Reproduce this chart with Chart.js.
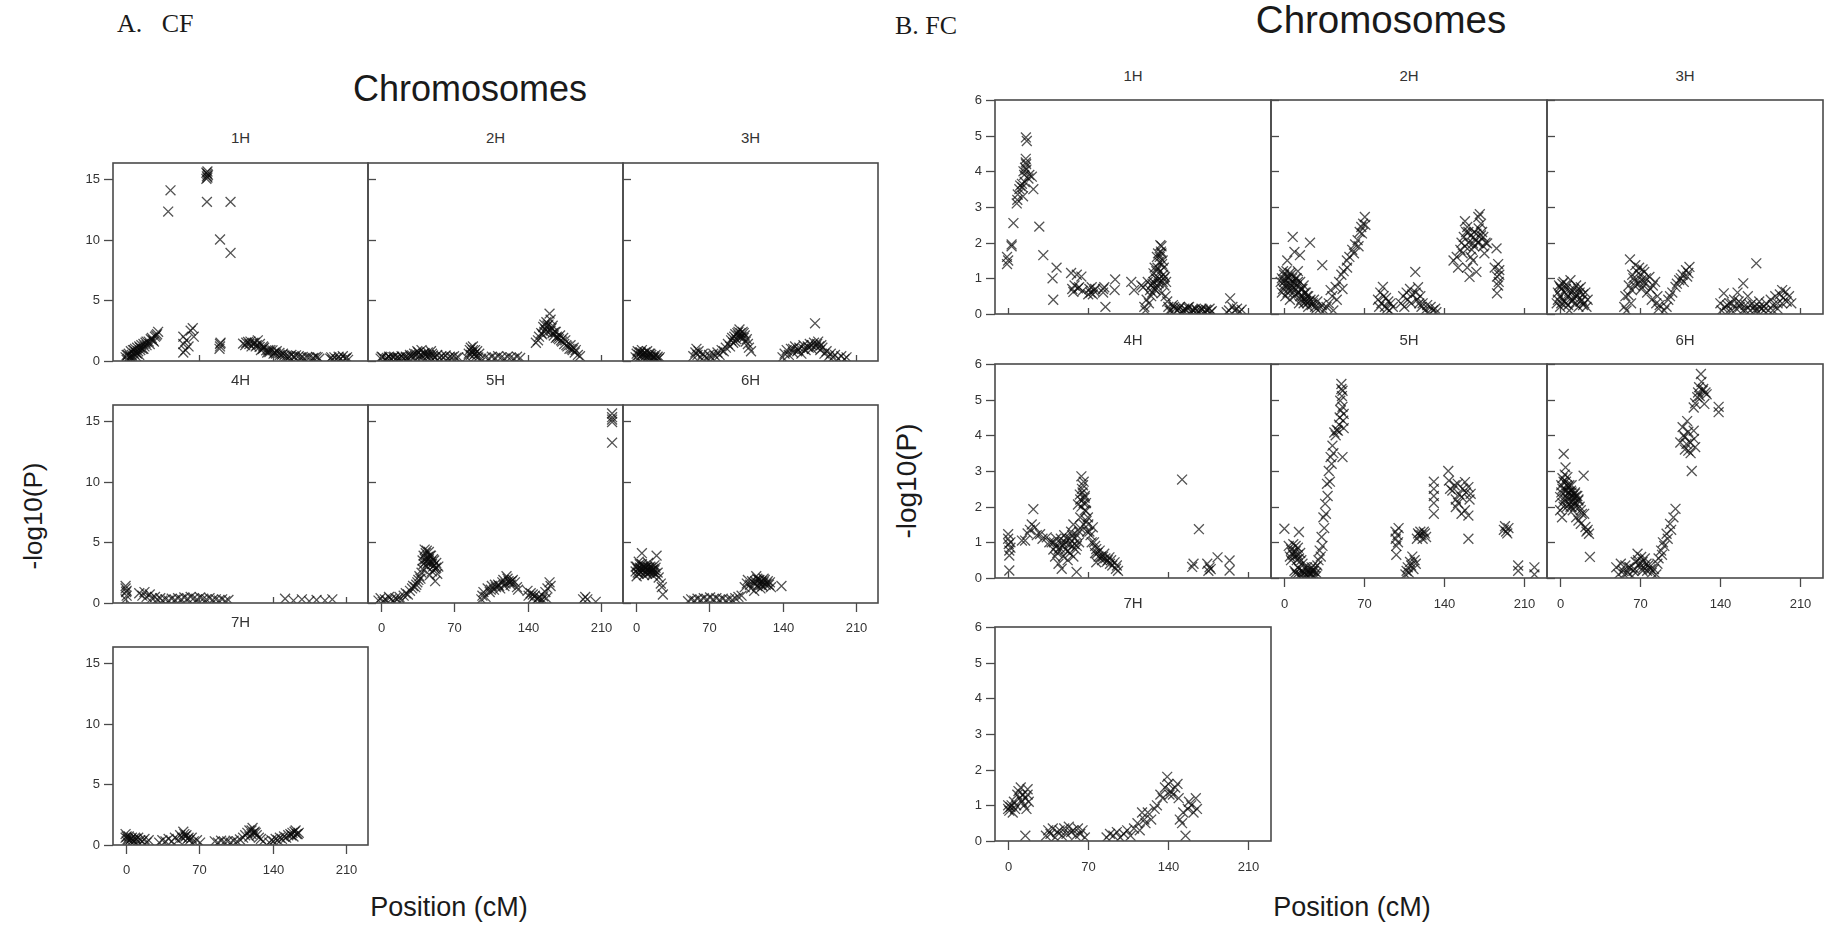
<!DOCTYPE html>
<html><head><meta charset="utf-8">
<script src="https://cdn.jsdelivr.net/npm/chart.js@4.4.1/dist/chart.umd.min.js"></script>
<style>
html,body{margin:0;padding:0;background:#fff;width:1827px;height:926px;overflow:hidden;position:relative;font-family:"Liberation Sans",Arial,sans-serif;}
canvas{position:absolute;}
.t{position:absolute;white-space:pre;color:#1a1a1a;line-height:1;}
.c{transform:translate(-50%,-50%);}
.r{transform:translate(-50%,-50%) rotate(-90deg);}
.s{font-size:15px;color:#333;}
.serif{font-family:"Liberation Serif","Times New Roman",serif;}
</style></head><body>
<script>
// ---------- tick values & labels ----------
const xTicks = [0, 70, 140, 210];
const yTicksA = [0, 5, 10, 15];
const yTicksB = [0, 1, 2, 3, 4, 5, 6];
const chromLabels = ['1H', '2H', '3H', '4H', '5H', '6H', '7H'];

// ---------- A. CF : [position cM, -log10(P)] ----------
const A_1H = [[0,0.3],[1,0.5],[1,0.1],[2,0.2],[2,0.5],[3,0.6],[4,0.4],[4,0.2],[5,0.8],[5,0.3],[6,0.5],[7,0.9],[7,0.3],[8,0.6],[8,0.9],[9,1.0],[10,0.7],[10,0.4],[11,1.1],[11,0.6],[12,0.8],[13,1.2],[13,0.5],[14,0.9],[14,1.1],[15,1.3],[16,1.0],[17,1.4],[17,1.0],[18,1.2],[19,1.5],[20,1.3],[20,1.6],[22,1.6],[23,1.4],[24,1.8],[25,1.9],[26,1.7],[27,1.6],[28,2.0],[29,2.1],[30,2.2],[31,2.4],
[40.6,12.3],[42.8,14.05],
[55,0.7],[55,1.4],[55,2.0],[57,0.9],[58,1.7],[60,1.2],[62,2.5],[64,2.7],[65,2.0],
[77,15.0],[77.5,15.2],[78,15.4],[78,15.6],[78.5,15.3],[77,15.5],[78,15.1],[77.5,13.1],
[90,10.0],[90,1.2],[90,1.4],[89.5,1.0],[90.5,1.5],
[100,13.1],[100,8.9],
[112,1.43],[114,1.3],[115,1.5],[116.7,1.57],[118,1.4],[119,1.6],[120,1.2],[121.5,1.49],[123,1.5],[124,1.2],[125,1.3],[126,1.7],[127.7,1.16],[128,1.4],[129,0.9],[130.8,1.0],[131,1.2],[132,1.1],[134,0.88],[135,0.7],[136,0.9],[137,0.74],[138,0.9],[140,0.88],[141,0.6],[142,0.7],[143.4,0.6],[144,0.8],[146.6,0.66],[147,0.5],[149,0.5],[150,0.6],[151.3,0.47],[153,0.4],[155,0.4],[156,0.33],[158,0.5],[160,0.4],[161,0.3],[162.4,0.47],[165,0.4],[167,0.3],[168.8,0.33],[170,0.2],[173,0.3],[175,0.28],[178,0.2],[179,0.25],[181.4,0.33],[183,0.3],[184.6,0.19],
[195,0.2],[196,0.3],[197,0.1],[199,0.3],[201,0.15],[203,0.35],[204,0.1],[205,0.2],[207,0.4],[209,0.2],[210,0.2],[211,0.3],[212,0.1]];

const A_2H = [[0,0.2],[1,0.35],[2,0.3],[4,0.1],[5,0.15],[6,0.25],[8,0.35],[9,0.25],[10,0.2],[12,0.3],[13,0.35],[14,0.15],[16,0.3],[17,0.2],[18,0.25],[20,0.4],[21,0.3],[22,0.2],[24,0.35],[25,0.2],[26,0.3],[28,0.5],[29,0.35],[30,0.45],[32,0.6],[33,0.4],[34,0.55],[35,0.8],[36,0.7],[37,0.4],[38,0.5],[39,0.9],[40,0.4],[41,0.6],[42,0.65],[43,0.5],[44,0.35],[45,0.7],[46,0.5],[47,0.4],[48,0.8],[49,0.6],[50,0.45],[51,0.3],[52,0.3],[54,0.5],[56,0.25],[58,0.4],[60,0.3],[62,0.45],[64,0.2],[66,0.35],[68,0.3],[70,0.4],[72,0.25],[74,0.3],
[82,0.3],[84,0.6],[85,0.9],[86,1.1],[86,0.5],[87,0.7],[88,1.2],[88,0.9],[89,0.5],[90,0.9],[90,0.6],[91,0.4],[92,0.8],[93,0.3],[94,0.6],[96,0.2],
[100,0.3],[103,0.2],[106,0.35],[109,0.25],[112,0.4],[115,0.3],[118,0.2],[121,0.35],[124,0.3],[127,0.2],[130,0.35],[133,0.25],
[148,1.5],[150,1.7],[151,2.0],[153,2.3],[154,2.2],[155,2.8],[156,2.4],[156,3.0],[157,2.6],[158,3.2],[159,2.9],[159,2.4],[160,3.0],[161,3.9],[162,2.5],[162,3.4],[163,2.7],[164,2.3],[164,2.9],[165,2.1],[166,2.4],[167,1.9],[167,2.4],[168,2.0],[169,1.9],[170,1.8],[171,2.1],[172,1.7],[173,1.6],[174,1.9],[175,1.4],[176,1.7],[177,1.3],[178,1.2],[180,1.0],[181,1.3],[182,1.0],[183,0.9],[184,1.1],[185,0.7],[186,0.9],[188,0.5],[190,0.4]];

const A_3H = [[0,0.3],[1,0.6],[2,0.8],[2,0.2],[3,0.5],[4,0.7],[5,0.4],[5,0.7],[6,0.9],[7,0.6],[8,0.3],[8,0.5],[9,0.7],[10,0.5],[11,0.8],[11,0.3],[12,0.4],[13,0.6],[14,0.3],[14,0.6],[15,0.5],[16,0.2],[17,0.4],[17,0.25],[18,0.3],[19,0.5],[20,0.2],[21,0.35],[22,0.2],[23,0.3],
[55,0.4],[57,0.7],[58,1.0],[59,0.5],[60,0.8],[62,0.3],[64,0.6],[66,0.4],[68,0.2],[70,0.5],[72,0.3],[74,0.6],[76,0.4],[78,0.7],[80,0.5],[82,0.9],[84,0.8],[86,1.1],[88,1.4],[90,1.2],[91,1.7],[92,1.9],[93,1.5],[94,2.0],[95,2.2],[95,1.6],[96,1.8],[97,2.3],[98,2.1],[98,2.4],[99,2.6],[100,2.3],[100,1.9],[101,2.0],[102,2.4],[103,1.9],[103,2.3],[104,2.1],[105,1.6],[106,1.8],[107,1.4],[108,1.1],[110,0.8],
[140,0.3],[142,0.6],[144,0.9],[146,0.5],[148,1.0],[150,0.7],[150,1.0],[152,1.2],[154,0.8],[155,0.9],[156,1.1],[158,0.6],[160,1.3],[160,1.0],[162,0.9],[164,1.2],[165,1.1],[166,1.4],[168,1.0],[168,1.3],[170,1.5],[171,3.1],[172,1.2],[173,1.4],[174,1.6],[175,1.2],[176,0.9],[177,1.3],[178,1.1],[180,0.6],[182,0.8],[184,0.4],[186,0.6],[188,0.3],[190,0.5],[193,0.2],[196,0.4],[199,0.15],[201,0.3]];

const A_4H = [[0,1.4],[0,1.2],[0.5,0.9],[1,0.6],[0,0.3],[1,1.0],[13,0.8],[16,0.6],[18,0.9],[20,0.5],[23,0.7],[25,0.4],[28,0.5],[30,0.3],[33,0.4],[35,0.2],[38,0.3],[41,0.2],[44,0.35],[47,0.25],[50,0.4],[53,0.3],[56,0.45],[59,0.35],[62,0.5],[65,0.4],[68,0.3],[71,0.45],[74,0.35],[77,0.3],[80,0.4],[83,0.25],[86,0.3],[89,0.2],[92,0.3],[95,0.15],[98,0.25],
[152,0.35],[160,0.2],[168,0.3],[175,0.15],[182,0.25],[190,0.2],[197,0.3]];

const A_5H = [[-2,0.2],[0,0.4],[2,0.1],[4,0.3],[6,0.2],[8,0.5],[10,0.3],[12,0.15],[14,0.4],[16,0.3],[18,0.5],[20,0.2],[22,0.6],[24,0.8],[26,0.7],[28,1.0],[30,1.2],[31,1.4],[33,1.3],[34,1.5],[35,1.7],[36,1.9],[37,2.2],[38,2.0],[39,2.5],[40,2.8],[40,3.5],[41,3.2],[41,3.9],[42,4.4],[42.5,3.6],[43,4.1],[43,3.4],[44,3.0],[44,4.3],[45,3.8],[45,3.3],[46,4.2],[46,3.6],[47,3.9],[48,3.4],[48,3.9],[49,2.6],[49,3.2],[50,3.6],[50,3.0],[51,3.1],[51,3.5],[52,2.8],[53,3.3],[53,2.9],[54,2.4],[55,3.0],[52,1.8],[47,2.3],
[96,0.3],[97,0.6],[98,0.9],[100,0.5],[102,1.2],[104,0.9],[105,1.1],[106,1.4],[108,1.1],[109,1.5],[110,1.3],[112,1.5],[113,1.4],[114,1.2],[116,1.7],[117,1.9],[118,1.4],[119,1.6],[120,2.2],[121,2.0],[122,1.8],[123,1.7],[124,1.5],[125,1.8],[126,1.9],[128,1.7],[130,1.3],[131,1.1],
[140,1.0],[141,0.6],[143,0.8],[145,0.4],[145,0.7],[147,0.6],[149,0.3],[150,0.4],[151,0.5],[153,0.2],[154,0.3],[155,0.55],[157,0.9],[159,1.2],[161,1.7],[162,1.4],[158,0.4],
[193,0.3],[195,0.5],[197,0.3],[205,0.1],
[220.6,15.6],[220.6,15.3],[220.6,15.1],[220.6,14.9],[220.6,13.2]];

const A_6H = [[0,2.6],[0,3.0],[1,3.0],[1,2.2],[2,2.8],[2,2.5],[3,2.4],[3,3.4],[4,2.9],[4,3.2],[5,2.5],[5,2.8],[6,4.1],[6,3.2],[7,2.7],[7,3.0],[8,2.3],[8,3.0],[9,2.6],[9,2.9],[10,2.9],[10,2.6],[11,2.4],[11,3.0],[12,3.3],[12,2.7],[13,2.5],[13,2.9],[14,3.0],[14,2.6],[15,2.6],[15,2.9],[16,2.3],[16,2.7],[17,2.8],[17,2.5],[18,3.1],[18,2.7],[19,2.4],[19,2.9],[20,3.9],[21,2.5],[22,2.1],[24,1.6],[25,1.3],[26,0.7],
[50,0.15],[53,0.3],[56,0.2],[59,0.35],[62,0.25],[65,0.4],[68,0.3],[71,0.45],[74,0.3],[77,0.4],[80,0.25],[83,0.35],[86,0.2],[89,0.3],[92,0.25],[95,0.4],[98,0.5],[101,0.6],
[104,1.3],[106,1.6],[107,1.9],[109,1.5],[110,1.2],[111,1.8],[113,1.0],[113,1.6],[114,1.8],[115,2.2],[116,1.4],[116,2.0],[117,1.9],[118,1.6],[118,1.9],[119,1.2],[120,1.8],[120,1.5],[121,1.4],[122,2.0],[122,1.7],[123,1.9],[124,1.5],[125,1.6],[126,1.8],[127,1.5],[128,1.7],[129,1.3],[139,1.4]];

const A_7H = [[0,0.9],[0,0.6],[1,0.3],[1,0.7],[2,0.5],[3,0.7],[4,0.4],[5,0.5],[6,0.6],[7,0.4],[8,0.3],[9,0.6],[10,0.5],[11,0.3],[12,0.6],[14,0.4],[16,0.3],[18,0.5],[20,0.2],[22,0.4],
[32,0.2],[35,0.4],[38,0.3],[41,0.5],[44,0.3],[47,0.6],[50,0.4],[52,0.8],[54,0.6],[55,1.1],[56,0.9],[57,0.7],[58,0.8],[59,0.5],[60,0.6],[61,0.4],[63,0.6],[65,0.3],[68,0.4],[71,0.2],
[85,0.3],[88,0.2],[91,0.35],[94,0.25],[97,0.3],[100,0.2],[103,0.35],[106,0.3],[109,0.45],[112,0.6],[114,0.8],[116,1.0],[118,0.7],[118,1.2],[120,0.9],[120,1.2],[121,1.4],[122,1.0],[123,1.1],[124,1.0],[125,0.8],[127,0.6],[129,0.5],[131,0.3],
[137,0.2],[139,0.4],[141,0.3],[143,0.5],[145,0.4],[147,0.6],[149,0.5],[151,0.7],[153,0.6],[155,0.8],[157,0.9],[158,0.8],[159,1.0],[160,0.7],[161,1.1],[162,1.2],[163,0.9],[164,0.9],[165,1.0]];

// ---------- B. FC ----------
const B_1H = [[-1,1.6],[-1,1.4],[0,1.5],[3,1.95],[3,1.9],[4.6,2.55],[7.5,3.1],[8,3.2],[8.4,3.35],[9.8,3.5],[10.5,3.6],[12,3.65],[12.5,3.55],[13.4,4.0],[14,3.9],[14.8,4.1],[15.4,4.35],[15.4,4.25],[15.5,4.95],[16.3,4.85],[15.7,4.2],[16,4.05],[17.7,3.8],[18.5,3.9],[20.7,3.85],[22,3.5],[14.5,3.7],[13,3.3],
[27.2,2.45],[30.7,1.65],[38.8,1.0],[42.3,1.3],[39.4,0.4],
[55,1.15],[56,0.7],[57,0.62],[58,0.8],[60,1.1],[61,0.72],[62,0.75],[64,1.05],[65,0.65],
[70,0.55],[71,0.7],[72,0.6],[73,0.75],[74,0.55],[75,0.65],[76,0.7],
[83,0.6],[83,0.7],[84,0.75],[85,0.2],[93.5,0.97],[93,0.67],
[107.6,0.9],[110,0.67],[116.4,0.8],[118,0.75],
[119,0.2],[120,0.1],[121,0.4],[122,0.9],[123,0.3],[124,0.67],[125,0.5],[125,0.8],[126,0.85],[126,0.6],[127,1.14],[127,0.9],[128,0.7],[128,1.3],[128.7,0.67],[129,1.0],[129.5,1.2],[130,1.6],[130,0.8],[130.5,1.3],[131,0.95],[131,1.7],[131.5,0.86],[132,1.45],[132,1.0],[132.5,1.6],[133,1.93],[133,1.2],[133.5,1.75],[134,1.7],[134,1.9],[134,0.58],[134.5,1.4],[135,1.5],[135,0.9],[135.5,1.1],[136,1.3],[136,1.0],[136.5,0.8],[137,1.04],[137.6,0.5],[138,0.9],[139,0.35],
[140,0.2],[141,0.1],[142,0.1],[144,0.25],[145,0.2],[146,0.15],[148,0.1],[149,0.15],[150,0.2],[152,0.05],[153,0.1],[154,0.15],[156,0.1],[157,0.18],[158,0.2],[160,0.05],[161,0.12],[162,0.1],[164,0.15],[165,0.1],[166,0.05],[168,0.1],[169,0.15],[170,0.12],[172,0.05],[173,0.12],[174,0.1],[176,0.15],[177,0.05],[178,0.08],
[191,0.05],[193,0.1],[194,0.44],[196,0.2],[198,0.1],[200,0.15],[202,0.05],[204,0.12]];

const B_2H = [[-3,0.9],[-2,1.0],[-2,0.6],[-1,0.7],[-1,1.2],[0,1.1],[0,0.8],[0,0.9],[1,0.95],[1,0.5],[2,1.2],[2,0.8],[2.7,1.5],[3,0.6],[3,1.05],[4,1.0],[4,0.7],[5,0.85],[5,0.4],[5,1.15],[6,1.1],[6,0.8],[7,0.7],[7,1.0],[7.5,2.16],[8,0.9],[8,0.6],[9,1.74],[9,0.5],[9,0.85],[10,1.0],[10,0.7],[11,0.8],[11,1.0],[12,0.6],[12,1.2],[12,0.9],[13,0.3],[13,0.6],[13.8,1.65],[14,0.9],[14,0.5],[15,0.7],[15,0.4],[16,0.5],[16,0.7],[17,0.8],[17,0.3],[18,0.4],[18,0.6],[19,0.6],[19,0.35],[20,0.3],[20,0.5],
[21,0.5],[21,0.2],[22,0.35],[22.6,2.0],[23,0.4],[24,0.25],[25,0.3],[26,0.4],[27,0.2],[28,0.15],[29,0.35],[31,0.15],[33.3,1.37],[33,0.25],[35,0.1],[37,0.2],
[39,0.3],[40.6,0.67],[42,0.5],[43,0.1],[45,0.76],[46,0.4],[48,0.9],[50,1.1],[51,0.7],[52,1.2],[54.8,1.5],[55,1.3],[57,1.6],[59.5,1.8],[61,1.7],[62,1.95],[64.2,2.07],[65,1.9],[66,2.3],[67.4,2.44],[68,2.26],[69,2.53],[70.5,2.72],[71,2.5],
[82,0.4],[83,0.2],[84,0.6],[85,0.3],[86.3,0.76],[87,0.5],[88,0.2],[89,0.45],[90,0.15],[91,0.35],[92,0.1],[93,0.3],[95,0.2],
[102,0.3],[104,0.5],[105,0.2],[107,0.6],[108,0.4],[110,0.7],[111,0.3],[112,0.55],[114.6,1.18],[115,0.6],[116,0.4],[117,0.75],[118,0.3],[119,0.5],[120,0.2],
[121,0.3],[123,0.1],[125,0.25],[126,0.05],[128,0.2],[130,0.1],[132,0.15],[133,0.05],
[148,1.5],[150.8,1.6],[152,1.3],[154,1.8],[155,2.0],[156,1.7],[157,2.16],[158,1.9],[158,2.6],[159,2.3],[160,2.44],[161,2.0],[161,2.3],[162,1.04],[163,2.2],[163,1.6],[164,1.8],[165,1.98],[166,2.3],[166,1.9],[167,2.1],[168,2.25],[168,1.18],[169,2.0],[169.7,2.72],[170,2.4],[170,2.0],[171,2.8],[172,2.53],[172,2.2],[173,2.3],[174,2.16],[174,1.9],[175,1.7],[176,2.0],[177.4,1.98],[165,1.5],[160,1.3],
[184,1.3],[185.6,1.84],[186,1.05],[186,0.58],[187,1.4],[187,0.8],[188,1.23],[188,1.1],[187.5,0.9]];

const B_3H = [[-3,0.3],[-2,0.6],[-2,0.4],[-1,0.8],[0,0.5],[0,0.2],[0,0.75],[1,0.7],[1,0.3],[2,0.4],[2,0.85],[3,0.9],[4,0.6],[4,0.35],[5,0.3],[5,0.7],[6,0.8],[7,0.5],[7,0.25],[8,0.1],[8,0.65],[9,0.95],[10,0.6],[10,0.35],[11,0.4],[12,0.7],[12,0.45],[13,0.3],[14,0.8],[14,0.55],[15,0.5],[16,0.2],[16,0.7],[17,0.6],[18,0.75],[18,0.35],[19,0.4],[20,0.55],[20,0.25],[21,0.3],[22,0.6],[23,0.2],[24,0.4],
[56,0.2],[57,0.5],[58,0.1],[59.6,0.53],[60,0.8],[61,1.53],[62,0.3],[62.7,0.67],[63,1.1],[64,1.0],[65,0.8],[65.7,1.37],[66,0.9],[67,1.2],[68.8,0.86],[69,1.3],[70,1.1],[71,0.7],[71,0.95],[72,1.25],[73,0.8],[73.5,1.18],[74,0.9],[75,1.0],[76,0.6],[78,1.04],[79,0.7],[80,0.4],[81,0.8],[83,0.9],[84,0.3],[85,0.5],[86,0.15],[87,0.25],
[91,0.1],[93,0.2],[94.5,0.4],[96,0.5],[98,0.6],[100.8,0.76],[102,0.85],[104,0.95],[105.5,1.0],[107,1.1],[108,0.9],[110,1.23],[111,1.05],[113,1.32],[112,1.15],
[140,0.3],[141,0.1],[143,0.58],[144,0.2],[146,0.05],[146,0.25],[148,0.3],[150,0.1],[150,0.3],[152,0.4],[154,0.15],[155,0.6],[156,0.35],[157,0.2],[158,0.3],[160,0.86],[160,0.1],[162,0.25],[162,0.1],[164,0.5],[166,0.1],[166,0.25],[168,0.3],[170,0.2],[170,0.1],[171.4,1.42],[172,0.1],[174,0.35],[174,0.2],[176,0.15],[178,0.2],[178,0.1],[180,0.3],[182,0.1],[184,0.4],[186,0.25],[186,0.1],[188,0.5],[190,0.3],[190,0.15],[192,0.55],[194,0.67],[194,0.3],[195,0.45],[197,0.62],[198,0.35],[200,0.5],[202,0.3]];

const B_4H = [[0,1.23],[0,1.1],[0.5,0.95],[1,0.77],[1,0.63],[1,0.21],[2,1.0],[2,0.85],
[12,1.05],[14.8,1.05],[17,1.25],[19,1.35],[20.6,1.5],[22,1.93],[23.5,1.42],[25,1.2],[27.9,1.23],[30,1.1],[33.7,1.14],[36,1.0],[38,1.0],
[39.5,0.8],[40,1.0],[41,0.6],[42,0.9],[42,1.1],[43,0.7],[44,0.4],[44,0.8],[45,0.85],[46,1.1],[46.8,0.26],[47,1.0],[48,0.6],[48,0.9],[49,1.2],[50,0.8],[50,1.0],[51,1.1],[52,0.5],[52,0.75],[53,0.95],[54,0.7],[54,1.1],[55,1.3],[56,0.9],[56,1.2],[57,1.5],[57,0.6],[58,1.1],[58,0.95],[59,0.8],[59.8,0.17],[60,1.2],[60,0.9],[61,2.06],[62,1.0],[62,1.3],[62.6,2.34],[63,1.7],[63,2.2],[63,1.4],[64,2.85],[64,2.0],[64.5,2.5],[65,2.4],[65.4,2.6],[66,2.1],[66,2.7],[66,1.5],[66.8,2.25],[67,1.9],[67,2.3],[68,1.88],[68,2.1],[68.5,1.6],[69,1.3],[69.7,1.7],[70,1.5],[71,1.3],
[72,1.2],[73,1.0],[74,1.42],[75,1.0],[76,0.9],[76,0.7],[77,0.81],[77,0.44],[78,0.7],[79,0.6],[80,0.77],[81,0.6],[82,0.5],[83,0.6],[84,0.68],[85,0.55],[86,0.45],[87,0.5],[88.5,0.58],[89,0.4],[90,0.5],[91,0.35],[93,0.44],[94.2,0.26],[95,0.35],[96,0.2],
[152,2.76],[160.8,0.31],[162,0.4],[166.7,1.37],[174,0.4],[175,0.2],[176,0.3],[177,0.25],[183,0.58],[193.5,0.49],[193.5,0.21]];

const B_5H = [[0.2,1.38],[12.9,1.29],
[4,0.9],[5,0.6],[6,0.8],[6,0.5],[7,0.7],[8,0.95],[8,0.65],[9,0.6],[10,0.75],[10,0.9],[11,0.5],[12,0.85],[12,0.65],[13,0.55],[14,0.7],[15,0.5],[16,0.4],
[9,0.2],[10,0.15],[11,0.1],[12,0.3],[13,0.25],[14,0.1],[15,0.05],[16,0.2],[17,0.15],[18,0.3],[18,0.05],[19,0.1],[20,0.2],[20,0.3],[21,0.05],[22,0.15],[22,0.1],[23,0.25],[24,0.1],[24,0.3],[25,0.2],[26,0.05],[26,0.2],[27,0.3],[28,0.15],[28,0.05],[29,0.35],[30,0.5],
[31,0.77],[32,0.6],[32.7,1.15],[33.5,0.9],[34.3,1.7],[35,1.4],[35.8,2.08],[36.5,1.8],[37.4,2.64],[38,2.3],[39,3.0],[40,2.7],[40.6,3.39],[41.5,3.2],[42.2,3.71],[43,3.5],[43.8,4.08],[45,4.0],[46,4.15],[47,4.13],[48,4.3],[48.5,4.5],[49,4.97],[49.5,4.7],[50,5.44],[50.5,5.1],[51,5.25],[51,3.39],[51.6,4.41],[52,4.6],[52,4.2],[51,4.8],[50,5.3],
[97.3,1.3],[97.5,1.1],[98,0.9],[98,0.65],[99,1.2],[99.5,1.0],[100,1.4],
[106,0.1],[107,0.2],[108,0.3],[109,0.15],[110,0.45],[111,0.35],[112,0.6],[113,0.25],[114,0.5],[115,0.4],
[116,1.1],[117,1.25],[118,1.2],[119,1.3],[120,1.2],[121,1.1],[122,1.3],[123,1.25],[124,1.15],
[130.8,1.8],[130.8,2.1],[130.8,2.3],[130.8,2.5],[130.8,2.7],
[143.4,3.0],[144,2.73],[145,2.5],[147,2.45],[149,2.6],[150,2.2],[151.7,2.64],[153,2.35],[155,2.27],[156,2.5],[158,2.69],[159,2.4],[161,2.55],[162,2.2],[163,2.36],[150,1.99],[152,2.1],[155,1.8],[158,1.9],[161,1.75],[161,1.1],
[192,1.35],[193,1.45],[194,1.3],[195,1.25],[196,1.4],
[204.5,0.2],[204.5,0.35],[218.7,0.3],[218.7,0.1]];

const B_6H = [[0,2.27],[0,1.9],[1,2.6],[1,2.4],[1.6,1.7],[2,2.5],[2,2.1],[2,2.8],[3,2.7],[3,2.0],[3.1,3.48],[4,2.9],[4,2.2],[4.7,3.1],[5,2.45],[5,2.3],[5,2.7],[6,2.6],[6,2.0],[6.3,2.83],[7,2.2],[7,2.55],[7,2.4],[8,2.6],[8,2.08],[8,2.4],[9,2.3],[9,2.0],[9.5,2.45],[10,1.99],[10,2.4],[10,2.6],[11,2.3],[11,2.15],[11,1.9],[12,2.25],[12,2.1],[12.6,2.36],[13,2.0],[13,2.4],[14,1.7],[14,2.1],[14,2.3],[15,2.3],[15.8,2.17],[16,1.61],[16,2.2],[17,2.0],[18,1.52],[18,1.9],[19,1.8],[20.5,2.87],[21,1.8],[22.1,1.43],[23,1.3],[24,1.35],[25.2,1.24],[26,0.59],
[49,0.3],[51,0.1],[53,0.4],[55,0.2],[56,0.1],[57,0.35],[59,0.15],[60,0.3],[61,0.3],[63,0.05],[64,0.2],[65,0.25],[66,0.45],[67.6,0.68],[68,0.5],[69,0.4],[70,0.3],[70.8,0.59],[72,0.45],[72,0.2],[73,0.3],[74,0.55],[75.5,0.4],[76,0.2],[77,0.35],[78,0.3],[79,0.25],[80,0.15],[82,0.25],[84,0.1],
[85,0.4],[86,0.55],[88.2,0.77],[89,0.65],[89.8,1.0],[91,0.9],[93,1.24],[94,1.1],[96,1.52],[97,1.35],[99,1.7],[100.8,1.94],
[105,3.8],[107,4.23],[108,4.0],[108.8,3.95],[109,3.6],[110.4,3.76],[111,4.4],[112,3.57],[113.5,3.8],[114,3.5],[115,3.0],[116.7,4.13],[117,3.9],[118,3.67],[112,4.1],
[116.7,4.78],[118,4.9],[119.8,5.07],[120.5,5.2],[121.4,5.35],[122,5.1],[123,5.72],[123.5,5.5],[124.6,5.25],[125,5.3],[126,4.88],[127,5.2],[128,5.15],
[138.5,4.65],[138.5,4.8]];

const B_7H = [[0,0.9],[0,1.0],[1,0.85],[2,0.95],[3,1.0],[4,0.8],[5,1.1],[6,0.9],[7,1.0],[8,1.3],[9,1.4],[10,1.2],[11,1.5],[12,1.1],[13,1.3],[14,1.0],[15,1.2],[15,0.15],[16,0.9],[17,1.3],[18,1.1],[17,1.45],
[33,0.15],[35,0.3],[37,0.2],[39,0.35],[41,0.1],[43,0.25],[45,0.3],[47,0.15],[49,0.35],[51,0.2],[53,0.4],[55,0.25],[57,0.3],[59,0.15],[61,0.35],[63,0.2],[65,0.3],[67,0.1],
[86,0.1],[89,0.2],[92,0.15],[95,0.25],[98,0.1],[101,0.2],[104,0.3],[107,0.15],[110,0.35],[113,0.5],[115,0.3],[117,0.8],[119,0.6],
[120,0.5],[122,0.8],[125,0.6],[128,0.9],[130,1.0],[133,1.3],[135,1.2],[137,1.5],[139,1.8],[140,1.6],[141,1.3],[142,1.4],[144,1.3],[146,1.5],[148,1.6],[149,1.2],[150,0.6],[152,0.5],[153,0.8],[155,0.15],[157,0.9],[158,1.1],[160,1.0],[162,0.8],[164,1.2],[165,0.9]];

// ---------- layout ----------
const figs = [
  {cols:[113,368,623], rows:[163,405,647], w:255, h:198, xMin:-12, xMax:231, yMax:16.3, yTicks:yTicksA,
   data:[A_1H,A_2H,A_3H,A_4H,A_5H,A_6H,A_7H], stripDy:26, labelDy:25},
  {cols:[995,1271,1547], rows:[100,364,627], w:276, h:214, xMin:-11.5, xMax:229.7, yMax:6, yTicks:yTicksB,
   data:[B_1H,B_2H,B_3H,B_4H,B_5H,B_6H,B_7H], stripDy:25, labelDy:26}
];

const texts = [
  {t:'A.   CF', x:117, y:11, cls:'serif', size:26},
  {t:'B. FC', x:895, y:13, cls:'serif', size:26},
  {t:'Chromosomes', x:470, y:89, cls:'c', size:36},
  {t:'Chromosomes', x:1381, y:20, cls:'c', size:38.5},
  {t:'-log10(P)', x:33, y:516, cls:'r', size:26},
  {t:'-log10(P)', x:907, y:481, cls:'r', size:28},
  {t:'Position (cM)', x:449, y:907, cls:'c', size:27},
  {t:'Position (cM)', x:1352, y:907, cls:'c', size:27}
];

const PAD = {left:50, right:12, top:12, bottom:45};

const framePlugin = {
  id: 'frame',
  afterDatasetsDraw(chart, args, o) {
    const {ctx, chartArea: a, scales: {x, y}} = chart;
    ctx.save();
    ctx.strokeStyle = '#4a4a4a';
    ctx.lineWidth = 1.6;
    ctx.strokeRect(a.left, a.top, a.right - a.left, a.bottom - a.top);
    ctx.lineWidth = 1.3;
    ctx.fillStyle = '#333';
    ctx.font = '13px "Liberation Sans", Arial, sans-serif';
    o.yTicks.forEach(v => {
      const py = Math.round(y.getPixelForValue(v)) + 0.5;
      ctx.beginPath();
      if (o.first) { ctx.moveTo(a.left - 9, py); ctx.lineTo(a.left, py); }
      else { ctx.moveTo(a.left, py); ctx.lineTo(a.left + 8, py); }
      ctx.stroke();
      if (o.first) {
        ctx.textAlign = 'right'; ctx.textBaseline = 'middle';
        ctx.fillText(String(v), a.left - 13, py);
      }
    });
    o.xTicks.forEach(v => {
      const px = Math.round(x.getPixelForValue(v)) + 0.5;
      ctx.beginPath();
      if (o.bottom) { ctx.moveTo(px, a.bottom); ctx.lineTo(px, a.bottom + 9); }
      else { ctx.moveTo(px, a.bottom); ctx.lineTo(px, a.bottom - 6); }
      ctx.stroke();
      if (o.bottom) {
        ctx.textAlign = 'center'; ctx.textBaseline = 'middle';
        ctx.fillText(String(v), px, a.bottom + o.labelDy);
      }
    });
    ctx.restore();
  }
};

function addText(t, x, y, cls, size) {
  const d = document.createElement('div');
  d.className = 't ' + cls;
  d.textContent = t;
  d.style.left = x + 'px';
  d.style.top = y + 'px';
  d.style.fontSize = size + 'px';
  document.body.appendChild(d);
}

texts.forEach(s => addText(s.t, s.x, s.y, s.cls, s.size));

figs.forEach(f => {
  f.data.forEach((arr, i) => {
    const row = Math.floor(i / 3), col = i % 3;
    const fx = f.cols[col], fy = f.rows[row];
    const bottom = i >= 4;
    const first = col === 0;
    addText(chromLabels[i], fx + f.w / 2, fy - f.stripDy, 'c s', 15);
    const cv = document.createElement('canvas');
    const cw = f.w + PAD.left + PAD.right, ch = f.h + PAD.top + PAD.bottom;
    cv.width = cw; cv.height = ch;
    cv.style.width = cw + 'px'; cv.style.height = ch + 'px';
    cv.style.left = (fx - PAD.left) + 'px';
    cv.style.top = (fy - PAD.top) + 'px';
    document.body.appendChild(cv);
    new Chart(cv, {
      type: 'scatter',
      data: { datasets: [{
        data: arr.map(p => ({x: p[0], y: p[1]})),
        pointStyle: 'crossRot', radius: 7, hoverRadius: 7,
        borderColor: 'rgba(10,10,10,0.7)', backgroundColor: 'rgba(0,0,0,0)', borderWidth: 1.3
      }]},
      options: {
        responsive: false, animation: false, events: [],
        devicePixelRatio: 1,
        layout: { padding: PAD },
        plugins: { legend: {display: false}, tooltip: {enabled: false},
          frame: { yTicks: f.yTicks, xTicks: xTicks, bottom, first, labelDy: f.labelDy } },
        scales: {
          x: { type: 'linear', display: false, min: f.xMin, max: f.xMax },
          y: { type: 'linear', display: false, min: 0, max: f.yMax }
        }
      },
      plugins: [framePlugin]
    });
  });
});
</script>
</body></html>
